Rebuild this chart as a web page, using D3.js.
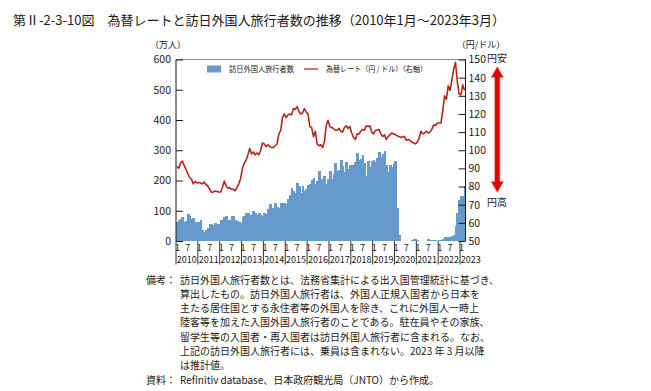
<!DOCTYPE html>
<html><head><meta charset="utf-8">
<script src="https://cdn.jsdelivr.net/npm/d3@7/dist/d3.min.js"></script>
<style>
body{margin:0;background:#fff}
svg{display:block}
text{font-family:"Noto Sans CJK JP","Noto Sans",sans-serif;fill:#231815}
</style>
</head><body>
<svg id="chart" width="651" height="391"></svg>
<script>
// ---- data ----
const years = [2010,2011,2012,2013,2014,2015,2016,2017,2018,2019,2020,2021,2022,2023];
const monthLabels = ["1","7"];
const leftTicks = [0,100,200,300,400,500,600];
const rightTicks = [50,60,70,80,90,100,110,120,130,140,150];
// 訪日外国人旅行者数（万人）, monthly Jan 2010 – Mar 2023
const visitors = [
  64, 68, 73, 78, 64, 66, 88, 81, 72, 77, 62, 63,        // 2010
  64, 68, 35, 30, 36, 43, 56, 55, 54, 58, 57, 56,        // 2011
  68, 68, 80, 81, 70, 70, 82, 83, 71, 67, 62, 61,        // 2012
  78, 83, 94, 92, 87, 87, 100, 91, 87, 92, 87, 84,       // 2013
  94, 89, 106, 123, 110, 108, 127, 113, 109, 127, 110, 127, // 2014
  121, 139, 153, 176, 165, 160, 192, 182, 160, 183, 165, 173, // 2015
  185, 189, 201, 208, 190, 199, 230, 205, 192, 214, 188, 205, // 2016
  230, 204, 221, 258, 230, 235, 268, 248, 228, 260, 238, 252, // 2017
  250, 251, 261, 290, 268, 270, 283, 258, 216, 264, 245, 263, // 2018
  269, 260, 276, 293, 277, 288, 299, 252, 227, 250, 244, 253, // 2019
  266, 109, 19, 0.3, 0.2, 0.3, 0.4, 0.9, 1.4, 2.7, 5.7, 5.9, // 2020
  4.6, 0.7, 1.2, 1.1, 1.0, 0.9, 5.1, 2.6, 1.8, 2.2, 2.1, 1.2, // 2021
  1.8, 1.7, 6.6, 14.0, 14.7, 12.0, 14.5, 17.0, 20.7, 49.9, 93.5, 137.0, // 2022
  149.7, 147.5, 181.8                                    // 2023
];
// 為替レート（円/ドル）
const rate = [
  91.1, 90.1, 93.0, 94.0, 91.5, 89.5, 87.0, 85.0, 84.0, 81.5, 82.8, 82.0,
  82.2, 82.0, 81.5, 82.5, 81.0, 80.3, 78.5, 76.8, 77.0, 77.5, 77.3, 77.0,
  77.0, 79.5, 83.0, 80.5, 79.0, 79.5, 78.5, 78.5, 77.8, 79.5, 81.5, 84.5,
  90.0, 93.0, 94.5, 97.5, 101.0, 98.0, 99.0, 97.5, 98.5, 97.5, 100.0, 104.0,
  103.5, 102.0, 103.0, 102.0, 101.5, 101.5, 102.5, 103.5, 109.0, 111.0, 118.0, 120.0,
  118.0, 119.5, 120.0, 119.5, 123.0, 122.5, 124.0, 121.5, 120.0, 120.5, 123.0, 121.0,
  120.0, 113.0, 112.5, 107.5, 110.5, 103.5, 102.5, 103.0, 101.5, 104.5, 113.5, 116.5,
  113.0, 112.5, 112.0, 111.0, 111.0, 112.0, 110.5, 110.0, 112.5, 113.5, 112.0, 113.0,
  109.5, 107.0, 106.0, 109.0, 109.0, 110.5, 111.5, 111.0, 113.5, 113.0, 113.5, 110.0,
  109.0, 111.0, 111.0, 111.5, 109.0, 107.5, 108.5, 106.0, 107.5, 108.5, 109.5, 109.0,
  108.5, 108.0, 107.5, 107.0, 107.5, 107.5, 105.5, 106.0, 105.5, 104.5, 104.0, 103.5,
  104.5, 106.5, 110.5, 109.0, 109.5, 110.5, 109.5, 110.0, 111.5, 114.0, 113.5, 115.0,
  115.0, 115.0, 121.5, 130.0, 128.0, 135.5, 133.0, 138.5, 144.5, 148.5, 138.0, 131.0,
  130.5, 136.0, 133.0
];
const noteLines = [
  "訪日外国人旅行者数とは、法務省集計による出入国管理統計に基づき、",
  "算出したもの。訪日外国人旅行者は、外国人正規入国者から日本を",
  "主たる居住国とする永住者等の外国人を除き、これに外国人一時上",
  "陸客等を加えた入国外国人旅行者のことである。駐在員やその家族、",
  "留学生等の入国者・再入国者は訪日外国人旅行者に含まれる。なお、",
  "上記の訪日外国人旅行者には、乗員は含まれない。2023 年 3 月以降",
  "は推計値。"
];
const sourceLine = "Refinitiv database、日本政府観光局（JNTO）から作成。";

// ---- months (categories) ----
const months = [];
years.forEach(y => { for (let m = 1; m <= 12; m++) { if (months.length < visitors.length) months.push({y, m}); } });

const svg = d3.select("#chart");
const X0 = 176, X1 = 465.5, YT = 59.5, YB = 241;
const x = d3.scaleBand().domain(d3.range(months.length)).range([X0, X1]).padding(0);
const yL = d3.scaleLinear().domain([0, 600]).range([YB, YT]);
const yR = d3.scaleLinear().domain([50, 150]).range([YB, YT]);
const BLUE = "#6699cc", RED = "#b3261a";

// title
svg.append("text").attr("x", 13).attr("y", 25).attr("font-size", 13)
  .attr("textLength", 492).attr("lengthAdjust", "spacingAndGlyphs")
  .text("第Ⅱ-2-3-10図　為替レートと訪日外国人旅行者数の推移（2010年1月～2023年3月）");

// unit labels
svg.append("text").attr("x", 168).attr("y", 48).attr("font-size", 9).attr("text-anchor", "middle").text("（万人）");
svg.append("text").attr("x", 481).attr("y", 48).attr("font-size", 9).attr("text-anchor", "middle").text("（円/ドル）");

// bars (slight overlap so adjacent bars merge without hairline gaps)
svg.append("g").attr("shape-rendering", "crispEdges").selectAll("rect").data(visitors).join("rect")
  .attr("x", (d, i) => x(i)).attr("width", (d, i) => i === visitors.length - 1 ? x.bandwidth() : x.bandwidth() + 0.9)
  .attr("y", d => yL(d)).attr("height", d => YB - yL(d))
  .attr("fill", BLUE);

// line
const line = d3.line().x((d, i) => x(i) + x.bandwidth() / 2).y(d => yR(d));
svg.append("path").datum(rate).attr("d", line)
  .attr("fill", "none").attr("stroke", RED).attr("stroke-width", 1.6).attr("stroke-linejoin", "round");

// frame
svg.append("line").attr("x1", X0).attr("x2", X1).attr("y1", YT).attr("y2", YT).attr("stroke", "#8c8c8c").attr("stroke-width", 1);
svg.append("line").attr("x1", X0).attr("x2", X0).attr("y1", YT).attr("y2", YB).attr("stroke", "#231815").attr("stroke-width", 1);
svg.append("line").attr("x1", X1).attr("x2", X1).attr("y1", YT).attr("y2", YB).attr("stroke", "#231815").attr("stroke-width", 1);

// left axis
const gl = svg.append("g").attr("transform", `translate(${X0},0)`)
  .call(d3.axisLeft(yL).tickValues(leftTicks).tickSize(-7).tickSizeOuter(0).tickPadding(5));
gl.select(".domain").remove();
gl.selectAll("text").attr("font-size", 10.5).style("font-family", '"Noto Sans CJK JP",sans-serif').attr("fill", "#231815");
gl.selectAll("line").attr("stroke", "#231815");

// right axis
const gr = svg.append("g").attr("transform", `translate(${X1},0)`)
  .call(d3.axisRight(yR).tickValues(rightTicks).tickSize(-7).tickSizeOuter(0).tickPadding(3));
gr.select(".domain").remove();
gr.selectAll("text").attr("font-size", 10.5).style("font-family", '"Noto Sans CJK JP",sans-serif').attr("fill", "#231815");
gr.selectAll("line").attr("stroke", "#231815");

// x axis: year separators, month labels, year labels
const gx = svg.append("g");
years.forEach((yr, k) => {
  const i0 = k * 12;
  if (i0 >= months.length) return;
  const xs = x(i0);
  gx.append("line").attr("x1", xs).attr("x2", xs).attr("y1", YB).attr("y2", 264.5)
    .attr("stroke", "#231815").attr("stroke-width", 0.9);
  gx.append("text").attr("x", xs + x.bandwidth() / 2 + 0.6).attr("y", 251).attr("font-size", 9)
    .attr("text-anchor", "middle").text(monthLabels[0]);
  if (i0 + 6 < months.length) {
    gx.append("text").attr("x", x(i0 + 6) + x.bandwidth() / 2).attr("y", 251).attr("font-size", 9)
      .attr("text-anchor", "middle").text(monthLabels[1]);
  }
  gx.append("text").attr("x", xs + 0.8).attr("y", 263).attr("font-size", 9)
    .attr("text-anchor", "start").text(yr);
});

// legend
svg.append("rect").attr("x", 207).attr("y", 65.5).attr("width", 14).attr("height", 7).attr("fill", BLUE);
svg.append("text").attr("x", 229).attr("y", 71.5).attr("font-size", 7.5)
  .attr("textLength", 65).attr("lengthAdjust", "spacingAndGlyphs").text("訪日外国人旅行者数");
svg.append("line").attr("x1", 304).attr("x2", 318).attr("y1", 69).attr("y2", 69).attr("stroke", RED).attr("stroke-width", 1.3);
svg.append("text").attr("x", 326).attr("y", 71.5).attr("font-size", 7.5)
  .attr("textLength", 101).attr("lengthAdjust", "spacingAndGlyphs").text("為替レート（円 / ドル）（右軸）");

// double arrow
const ax = 497.3, aTop = 66.5, aBot = 192.5, hh = 11, hw = 6.2, sw = 2.6;
svg.append("path")
  .attr("d", `M${ax},${aTop} L${ax + hw},${aTop + hh} L${ax + sw},${aTop + hh} L${ax + sw},${aBot - hh} L${ax + hw},${aBot - hh} L${ax},${aBot} L${ax - hw},${aBot - hh} L${ax - sw},${aBot - hh} L${ax - sw},${aTop + hh} L${ax - hw},${aTop + hh} Z`)
  .attr("fill", "#e00000").attr("stroke", "#f08a8a").attr("stroke-width", 0.6);
svg.append("text").attr("x", 497).attr("y", 62).attr("font-size", 10).attr("text-anchor", "middle").text("円安");
svg.append("text").attr("x", 497).attr("y", 205.5).attr("font-size", 10).attr("text-anchor", "middle").text("円高");

// notes
svg.append("text").attr("x", 146).attr("y", 283.5).attr("font-size", 10).text("備考：");
noteLines.forEach((t, i) => {
  svg.append("text").attr("x", 180).attr("y", 283.5 + i * 14.3).attr("font-size", 10).text(t);
});
svg.append("text").attr("x", 146).attr("y", 383.5).attr("font-size", 10).text("資料：");
svg.append("text").attr("x", 180).attr("y", 383.5).attr("font-size", 10).text(sourceLine);
</script>
</body></html>
